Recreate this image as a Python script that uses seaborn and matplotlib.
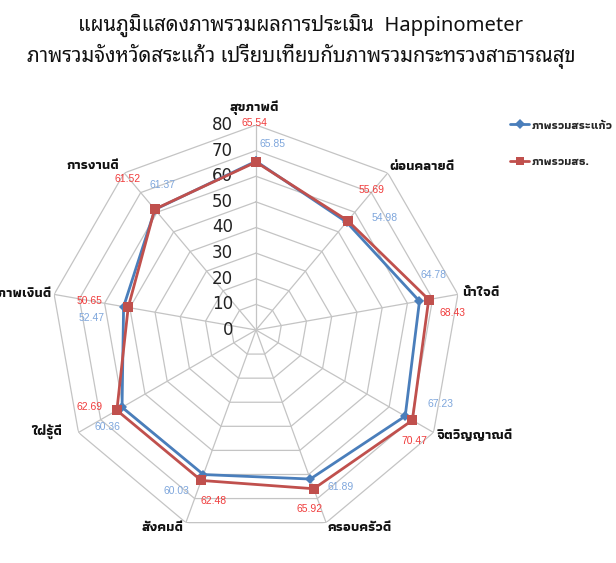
import numpy as np
import matplotlib
matplotlib.use("Agg")
import matplotlib.pyplot as plt
import seaborn as sns
from matplotlib.lines import Line2D

categories = ["สุขภาพดี", "ผ่อนคลายดี", "น้ำใจดี", "จิตวิญญาณดี", "ครอบครัวดี",
              "สังคมดี", "ใฝ่รู้ดี", "สุขภาพเงินดี", "การงานดี"]
sakaeo = [65.85, 54.98, 64.78, 67.23, 61.89, 60.03, 60.36, 52.47, 61.37]
moph = [65.54, 55.69, 68.43, 70.47, 65.92, 62.48, 62.69, 50.65, 61.52]
series_names = ["ภาพรวมสระแก้ว", "ภาพรวมสธ."]
r_ticks = [0, 10, 20, 30, 40, 50, 60, 70, 80]
title_lines = ["แผนภูมิแสดงภาพรวมผลการประเมิน  Happinometer",
               "ภาพรวมจังหวัดสระแก้ว เปรียบเทียบกับภาพรวมกระทรวงสาธารณสุข"]

sns.set_theme(style="white")
plt.rcParams["font.family"] = ["Athiti", "DejaVu Sans"]
TITLE_FONT = ["Noto Sans Thai Looped", "DejaVu Sans"]
LABEL_FONT = ["Athiti", "DejaVu Sans"]
NUM_FONT = ["Liberation Sans", "DejaVu Sans"]

BLUE = "#4a7ebb"
RED = "#c0504d"
BLUE_T = "#7ea6dc"
RED_T = "#f03c3c"
GRID = "#c4c4c4"

fig = plt.figure(figsize=(6.16, 5.63), dpi=100)
W, H = 616, 563
cx, cy, R = 256, 330, 205
ax = fig.add_axes([(cx - R) / W, (H - cy - R) / H, 2 * R / W, 2 * R / H], projection="polar")
ax.set_theta_zero_location("N")
ax.set_theta_direction(-1)
ax.set_ylim(0, 80)
ax.grid(False)
ax.spines["polar"].set_visible(False)
ax.set_xticks([])
ax.set_yticks([])
ax.patch.set_alpha(0)

n = len(categories)
theta = np.arange(n) * 2 * np.pi / n
theta_c = np.append(theta, 2 * np.pi)

for r in r_ticks[1:]:
    ax.plot(theta_c, [r] * (n + 1), color=GRID, lw=0.9, zorder=1)
for t in theta:
    ax.plot([t, t], [0, 80], color=GRID, lw=0.9, zorder=1)

for r in r_ticks:
    ax.annotate(str(r), (0, r), xytext=(-23, 0), textcoords="offset pixels",
                ha="right", va="center", fontsize=12, color="#222222",
                family=["DejaVu Sans"], zorder=3)

sns.lineplot(x=theta_c, y=np.append(sakaeo, sakaeo[0]), ax=ax, sort=False, estimator=None,
             color=BLUE, lw=2.0, marker="D", markersize=5, markeredgewidth=0, zorder=4)
sns.lineplot(x=theta_c, y=np.append(moph, moph[0]), ax=ax, sort=False, estimator=None,
             color=RED, lw=2.0, marker="s", markersize=7, markeredgewidth=0, zorder=5)

blue_off = [(16, 17), (38, 4), (14, 26), (35, 12), (30, -8), (-27, -16), (-15, -20), (-32, -11), (8, 25)]
red_off = [(-2, 39), (24, 31), (24, -13), (2, -21), (-4, -20), (12, -21), (-27, 3), (-39, 6), (-27, 30)]
for i in range(n):
    ax.annotate(f"{sakaeo[i]:.2f}", (theta[i], sakaeo[i]), xytext=blue_off[i],
                textcoords="offset pixels", ha="center", va="center", fontsize=7.5,
                color=BLUE_T, family=NUM_FONT, zorder=6)
    ax.annotate(f"{moph[i]:.2f}", (theta[i], moph[i]), xytext=red_off[i],
                textcoords="offset pixels", ha="center", va="center", fontsize=7.5,
                color=RED_T, family=NUM_FONT, zorder=6)

cat_off = [(-2, 17, "center"), (2, 6, "left"), (4, 2, "left"), (3, -3, "left"), (1, -5, "left"),
           (-2, -5, "right"), (-16, 0, "right"), (-2, 1, "right"), (-5, 7, "right")]
for i, c in enumerate(categories):
    dx, dy, ha = cat_off[i]
    ax.annotate(c, (theta[i], 80), xytext=(dx, dy), textcoords="offset pixels",
                ha=ha, va="center", fontsize=10, fontweight="bold", color="#111111",
                family=LABEL_FONT, annotation_clip=False)

fig.text(301 / W, 1 - 25 / H, title_lines[0], ha="center", va="center", fontsize=14.5,
         color="#111111", family=TITLE_FONT, fontweight="semibold")
fig.text(301 / W, 1 - 56 / H, title_lines[1], ha="center", va="center", fontsize=14.5,
         color="#111111", family=TITLE_FONT, fontweight="semibold")

handles = [Line2D([], [], color=BLUE, lw=2, marker="D", markersize=5, markeredgewidth=0),
           Line2D([], [], color=RED, lw=2, marker="s", markersize=6, markeredgewidth=0)]
fig.legend(handles, series_names, loc="upper left", bbox_to_anchor=(502 / W, 1 - 112 / H),
           frameon=False, handlelength=1.6, handletextpad=0.2, labelspacing=2.2,
           borderpad=0.2, prop={"family": LABEL_FONT, "weight": "bold", "size": 8.5})

fig.savefig("out.png", dpi=100)
